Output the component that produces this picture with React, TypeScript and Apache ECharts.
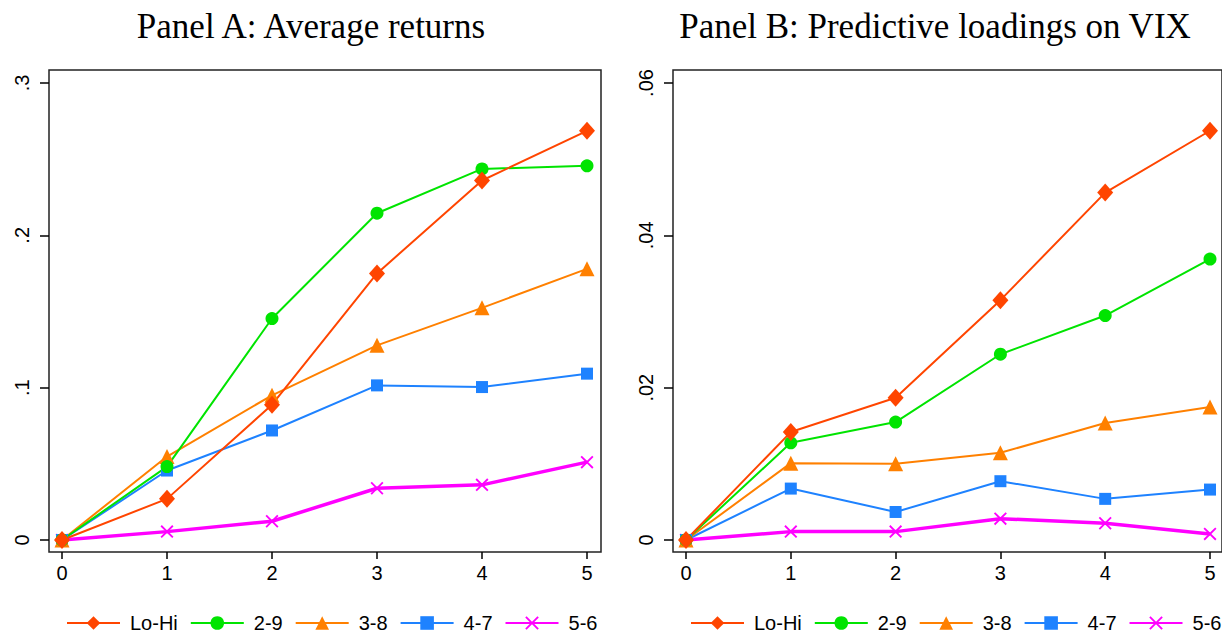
import React, { useEffect, useRef } from "react";
import * as echarts from "echarts";

const horizons = [0, 1, 2, 3, 4, 5];
const seriesNames = ["Lo-Hi", "2-9", "3-8", "4-7", "5-6"];

// Panel A: Average returns
const aLoHi = [0, 0.027, 0.0888, 0.175, 0.236, 0.2686];
const a29 = [0, 0.0482, 0.1454, 0.2145, 0.2436, 0.2456];
const a38 = [0, 0.0548, 0.095, 0.1278, 0.1524, 0.178];
const a47 = [0, 0.0456, 0.0719, 0.1015, 0.1004, 0.1092];
const a56 = [0, 0.0055, 0.0123, 0.034, 0.0362, 0.0511];

// Panel B: Predictive loadings on VIX
const bLoHi = [0, 0.01417, 0.01868, 0.03149, 0.04561, 0.05373];
const b29 = [0, 0.01276, 0.01548, 0.02439, 0.02947, 0.03689];
const b38 = [0, 0.01009, 0.01, 0.01145, 0.01535, 0.01746];
const b47 = [0, 0.00675, 0.00368, 0.00772, 0.0054, 0.00662];
const b56 = [0, 0.0011, 0.0011, 0.0028, 0.0022, 0.0008];

// axis ranges / tick steps
const xRange = [0, 5, 1];
const aYRange = [0, 0.3, 0.1];
const bYRange = [0, 0.06, 0.02];

const titles = ["Panel A: Average returns", "Panel B: Predictive loadings on VIX"];

const colors = ["#FF4500", "#00E400", "#FF8000", "#1E82FF", "#FF00FF"];
const crossPath =
  "path://M0,1 L1,0 L5,4 L9,0 L10,1 L6,5 L10,9 L9,10 L5,6 L1,10 L0,9 L4,5 Z";
const symbols = ["diamond", "circle", "triangle", "rect", crossPath];
const symbolSizes: any[] = [[16, 18], 13, 15, 12, 13];
const lineWidths = [2, 2, 2, 2, 3.5];

const fmt = (v: number) => {
  const r = +v.toFixed(4);
  return r === 0 ? "0" : String(r).replace(/^0\./, ".");
};

export default function App() {
  const ref = useRef<HTMLDivElement>(null);
  useEffect(() => {
    if (!ref.current) return;
    const chart = echarts.init(ref.current, null, { renderer: "svg" });
    const panels = [
      { data: [aLoHi, a29, a38, a47, a56], yr: aYRange, frameLeft: 49, frameW: 552, plotLeft: 62, plotW: 525 },
      { data: [bLoHi, b29, b38, b47, b56], yr: bYRange, frameLeft: 673, frameW: 551, plotLeft: 686, plotW: 524 },
    ];
    const font = "Liberation Sans";
    const frameColor = "#222";
    const plotTop = 83;
    const plotH = 457;
    const frameTop = 70;
    const frameH = 482;
    const grids: any[] = [];
    panels.forEach((p) => {
      grids.push({ left: p.plotLeft, top: plotTop, width: p.plotW, height: plotH, show: false });
    });
    panels.forEach((p) => {
      grids.push({
        left: p.frameLeft,
        top: frameTop,
        width: p.frameW,
        height: frameH,
        show: true,
        borderColor: frameColor,
        borderWidth: 1.5,
        backgroundColor: "transparent",
      });
    });
    const xAxes: any[] = panels.map((p, i) => ({
      type: "value",
      gridIndex: i,
      min: xRange[0],
      max: xRange[1],
      interval: xRange[2],
      offset: frameTop + frameH - (plotTop + plotH),
      axisLine: { show: false, onZero: false },
      splitLine: { show: false },
      axisTick: { show: true, inside: false, length: 7, lineStyle: { color: "#000", width: 1.5 } },
      axisLabel: {
        margin: 11,
        color: "#000",
        fontSize: 20,
        fontFamily: font,
        formatter: (v: number) => String(Math.round(v)),
      },
    }));
    const yAxes: any[] = panels.map((p, i) => ({
      type: "value",
      gridIndex: i,
      min: p.yr[0],
      max: p.yr[1],
      interval: p.yr[2],
      offset: p.plotLeft - p.frameLeft,
      axisLine: { show: false, onZero: false },
      splitLine: { show: false },
      axisTick: { show: true, inside: false, length: 9, lineStyle: { color: "#000", width: 1.5 } },
      axisLabel: {
        rotate: 90,
        margin: 17,
        color: "#000",
        fontSize: 20,
        fontFamily: font,
        formatter: fmt,
      },
    }));
    panels.forEach((p, i) => {
      xAxes.push({ type: "value", gridIndex: 2 + i, show: false, min: 0, max: 1 });
      yAxes.push({ type: "value", gridIndex: 2 + i, show: false, min: 0, max: 1 });
    });
    const series: any[] = [];
    panels.forEach((p, pi) => {
      // draw Lo-Hi last so it sits on top
      for (let k = seriesNames.length - 1; k >= 0; k--) {
        series.push({
          type: "line",
          name: seriesNames[k],
          xAxisIndex: pi,
          yAxisIndex: pi,
          data: horizons.map((h, j) => [h, p.data[k][j]]),
          symbol: symbols[k],
          symbolSize: symbolSizes[k],
          showAllSymbol: true,
          clip: false,
          lineStyle: { color: colors[k], width: lineWidths[k] },
          itemStyle: { color: colors[k], borderWidth: 0 },
          emphasis: { disabled: true },
          z: 2,
        });
      }
    });
    const legends = panels.map((p, i) => ({
      data: seriesNames,
      left: i === 0 ? 66 : 690,
      top: 613,
      width: 580,
      padding: 0,
      orient: "horizontal",
      itemWidth: 53,
      itemHeight: 17,
      itemGap: 12,
      selectedMode: false,
      textStyle: { color: "#000", fontSize: 20, fontFamily: font, padding: [0, 0, 0, 5] },
    }));
    const graphic = titles.map((t, i) => ({
      type: "text",
      x: i === 0 ? 311 : 935,
      y: 26,
      style: {
        text: t,
        font: '35px "Liberation Serif"',
        fill: "#000",
        textAlign: "center",
        textVerticalAlign: "middle",
      },
    }));
    chart.setOption({
      animation: false,
      backgroundColor: "#fff",
      grid: grids,
      xAxis: xAxes,
      yAxis: yAxes,
      series,
      legend: legends,
      graphic,
    });
    return () => chart.dispose();
  }, []);
  return (
    <div
      ref={ref}
      style={{ position: "fixed", left: 0, top: 0, width: 1222, height: 634, background: "#fff" }}
    />
  );
}
